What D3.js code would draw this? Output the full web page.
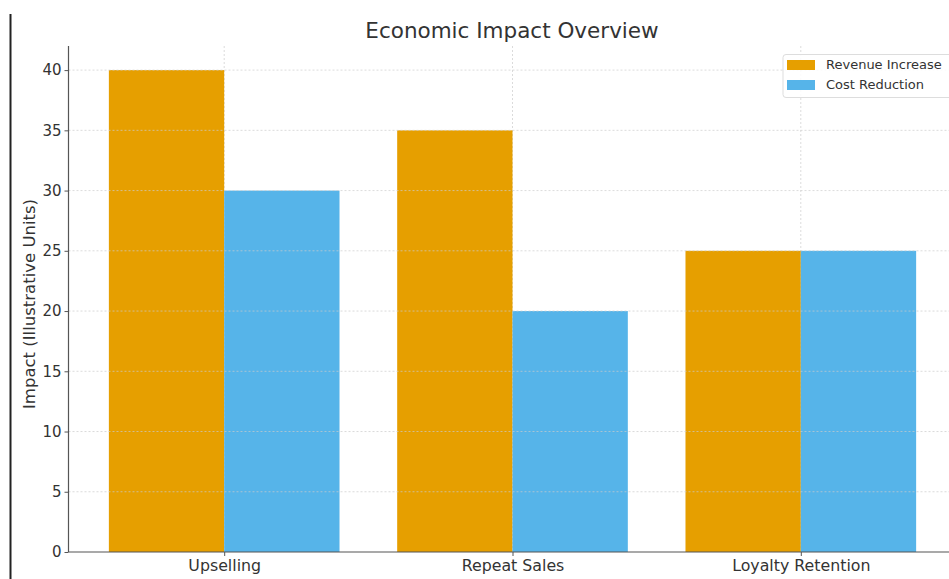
<!DOCTYPE html>
<html lang="en">
<head>
  <meta charset="UTF-8">
  <title>Economic Impact Overview</title>
  <script src="https://d3js.org/d3.v7.min.js"></script>
  <style>
    body {
      margin: 0;
      background: #fff;
      overflow: hidden;
    }
    svg {
      display: block;
      font-family: "DejaVu Sans", sans-serif;
    }
    .grid line {
      stroke: #ccc;
      stroke-dasharray: 2,2;
      stroke-opacity: 0.7;
    }
  </style>
</head>
<body>
<svg width="949" height="579"></svg>
<script>
  const categories = ["Upselling", "Repeat Sales", "Loyalty Retention"];
  const seriesNames = ["Revenue Increase", "Cost Reduction"];
  const revenueIncrease = [40, 35, 25];
  const costReduction = [30, 20, 25];
  const yTicks = [0, 5, 10, 15, 20, 25, 30, 35, 40];
  const colors = ["#E69F00", "#56B4E9"];

  const svg = d3.select("svg");
  const width = +svg.attr("width");
  const height = +svg.attr("height");

  const margin = { left: 68.5, top: 46, bottom: 552 };

  // numeric x like matplotlib: categories at 0,1,2, bars of width 0.4
  const x = d3.scaleLinear().domain([-0.54, 2.54]).range([margin.left, 956.5]);
  const y = d3.scaleLinear().domain([0, 42]).range([margin.bottom, margin.top]);
  const barW = 0.4;

  // left black frame line
  svg.append("line")
    .attr("x1", 10.5).attr("x2", 10.5)
    .attr("y1", 14).attr("y2", height)
    .attr("stroke", "#222").attr("stroke-width", 2);

  // vertical grid behind bars
  const grid = svg.append("g").attr("class", "grid");
  grid.selectAll("line.v")
    .data(categories)
    .join("line")
    .attr("class", "v")
    .attr("x1", (d, i) => x(i)).attr("x2", (d, i) => x(i))
    .attr("y1", margin.top).attr("y2", margin.bottom);

  // bars
  const series = [revenueIncrease, costReduction];
  series.forEach((vals, s) => {
    svg.append("g")
      .selectAll("rect")
      .data(vals)
      .join("rect")
      .attr("x", (d, i) => x(i - barW + s * barW))
      .attr("width", x(barW) - x(0))
      .attr("y", d => y(d))
      .attr("height", d => y(0) - y(d))
      .attr("fill", colors[s]);
  });

  // horizontal grid, faint over bars
  svg.append("g").attr("class", "grid")
    .selectAll("line")
    .data(yTicks.slice(1))
    .join("line")
    .attr("x1", margin.left).attr("x2", width)
    .attr("y1", d => y(d)).attr("y2", d => y(d))
    .attr("stroke-opacity", 0.45);

  // axes
  const yAxis = svg.append("g")
    .attr("transform", `translate(${margin.left},0)`)
    .call(d3.axisLeft(y).tickValues(yTicks).tickSize(4).tickPadding(3));
  yAxis.attr("font-family", "DejaVu Sans").attr("font-size", 15);
  yAxis.select(".domain").attr("stroke", "#555").attr("stroke-width", 1.2)
    .attr("d", `M0,${margin.top}V${margin.bottom}`);
  yAxis.selectAll(".tick line").attr("stroke", "#555");
  yAxis.selectAll(".tick text").attr("fill", "#333");

  const xAxis = svg.append("g")
    .attr("transform", `translate(0,${margin.bottom})`)
    .call(d3.axisBottom(x).tickValues([0, 1, 2]).tickFormat(i => categories[i]).tickSize(4).tickPadding(4));
  xAxis.attr("font-family", "DejaVu Sans").attr("font-size", 15.8);
  xAxis.select(".domain").attr("stroke", "#555").attr("stroke-width", 1.2)
    .attr("d", `M${margin.left},0H${width}`);
  xAxis.selectAll(".tick line").attr("stroke", "#555");
  xAxis.selectAll(".tick text").attr("fill", "#333");

  // title
  svg.append("text")
    .attr("x", 512).attr("y", 38)
    .attr("text-anchor", "middle")
    .attr("font-size", 21.5)
    .attr("fill", "#333")
    .text("Economic Impact Overview");

  // y label
  svg.append("text")
    .attr("transform", `translate(35,304) rotate(-90)`)
    .attr("text-anchor", "middle")
    .attr("font-size", 16.5)
    .attr("fill", "#333")
    .text("Impact (Illustrative Units)");

  // legend
  const legend = svg.append("g");
  legend.append("rect")
    .attr("x", 783).attr("y", 54.5)
    .attr("width", 180).attr("height", 43)
    .attr("rx", 3)
    .attr("fill", "#fff").attr("fill-opacity", 0.85)
    .attr("stroke", "#ddd");
  seriesNames.forEach((name, i) => {
    legend.append("rect")
      .attr("x", 787).attr("y", 60 + i * 20)
      .attr("width", 28).attr("height", 10)
      .attr("fill", colors[i]);
    legend.append("text")
      .attr("x", 826).attr("y", 69 + i * 20)
      .attr("font-size", 13)
      .attr("fill", "#333")
      .text(name);
  });
</script>
</body>
</html>
